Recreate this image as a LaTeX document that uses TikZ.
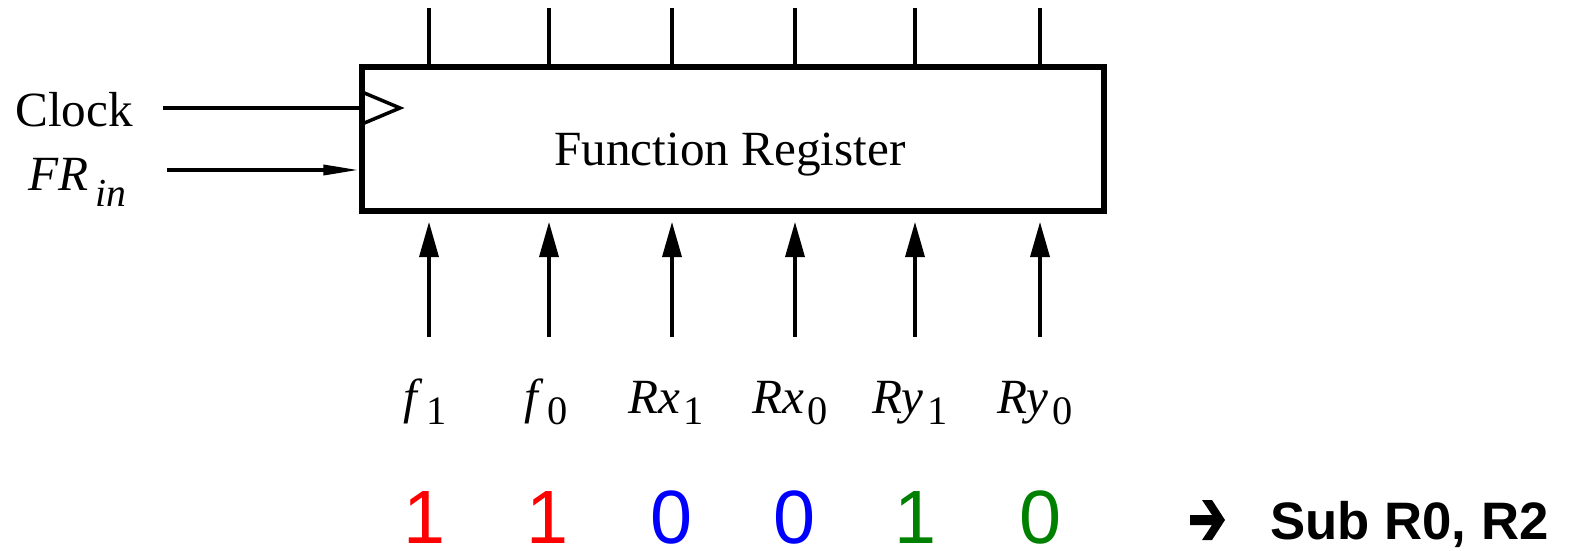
\documentclass[tikz,border=0pt]{standalone}
\usepackage{fontspec}
\setmainfont{Liberation Serif}
\setsansfont{Liberation Sans}
\usetikzlibrary{positioning,arrows.meta,calc}
\definecolor{bitRed}{HTML}{FF0000}
\definecolor{bitBlue}{HTML}{0000FF}
\definecolor{bitGreen}{HTML}{008000}
\newcommand{\sigName}[2]{\textit{#1}\hspace{2pt}\raisebox{-6.8pt}{\fontsize{23}{23}\selectfont #2}}

\begin{document}
\begin{tikzpicture}[x=0.02cm, y=-0.02cm,
    regBox/.style={rectangle, draw=black, line width=3.1pt, minimum width=14.84cm, minimum height=2.88cm, inner sep=0pt, outer sep=0pt},
    serifText/.style={font=\fontsize{28}{30}\selectfont, inner sep=0pt, anchor=base},
    bitText/.style={font=\sffamily\fontsize{43}{45}\selectfont, inner sep=0pt, anchor=base},
    pinLine/.style={line width=2pt},
    pinArrow/.style={line width=2pt, -{Triangle[length=20pt, width=10.8pt, sep=2.8pt]}, shorten >=3.4pt},
    inArrow/.style={line width=2pt, -{Triangle[length=20pt, width=5.7pt]}, shorten >=2pt}
]
    \useasboundingbox (0,0) rectangle (1573,551);

    \node[regBox] (reg) at (733,139) {};
    \node[serifText] (regName) at (730,165) {Function Register};

    \node[serifText, anchor=base west] (clk) at (15,126) {Clock};
    \node[serifText, anchor=base west] (frIn) at (28,190) {\textit{FR}\hspace{4pt}\raisebox{-9.6pt}{\fontsize{22.6}{24}\selectfont\textit{in}}};

    \node[serifText] (fOne) at (425,413) {\sigName{f}{1}};
    \node[serifText] (fZero) at (546,413) {\sigName{f}{0}};
    \node[serifText] (rxOne) at (666,413) {\sigName{Rx}{1}};
    \node[serifText] (rxZero) at (790,413) {\sigName{Rx}{0}};
    \node[serifText] (ryOne) at (910,413) {\sigName{Ry}{1}};
    \node[serifText] (ryZero) at (1035,413) {\sigName{Ry}{0}};

    \node[bitText, text=bitRed] (bitF1) at (425,543) {1};
    \node[bitText, text=bitRed] (bitF0) at (548,543) {1};
    \node[bitText, text=bitBlue] (bitX1) at (672,543) {0};
    \node[bitText, text=bitBlue] (bitX0) at (795,543) {0};
    \node[bitText, text=bitGreen] (bitY1) at (916,543) {1};
    \node[bitText, text=bitGreen] (bitY0) at (1040,543) {0};

    \fill (1190,515) -- (1212,515) -- (1202,500) -- (1212,500) -- (1225,520) -- (1212,540) -- (1202,540) -- (1212,525) -- (1190,525) -- cycle;
    \node[font=\sffamily\bfseries\fontsize{30}{32}\selectfont, inner sep=0pt, anchor=base west] (instr) at (1270,539) {Sub R0, R2};

    \coordinate (clkStart) at (163,108);
    \coordinate (frStart) at (167,170);
    \draw[pinLine] (clkStart) -- (reg.west |- clkStart);
    \draw[pinLine] (362,92) -- (400,108) -- (362,124);
    \draw[inArrow] (frStart) -- (reg.west |- frStart);

    \foreach \x [count=\i] in {429,549,672,795,915,1040} {
        \coordinate (top\i) at (\x,8);
        \coordinate (tail\i) at (\x,337);
        \draw[pinLine] (top\i) -- (top\i |- reg.north);
        \draw[pinArrow] (tail\i) -- (tail\i |- reg.south);
    }
\end{tikzpicture}
\end{document}
